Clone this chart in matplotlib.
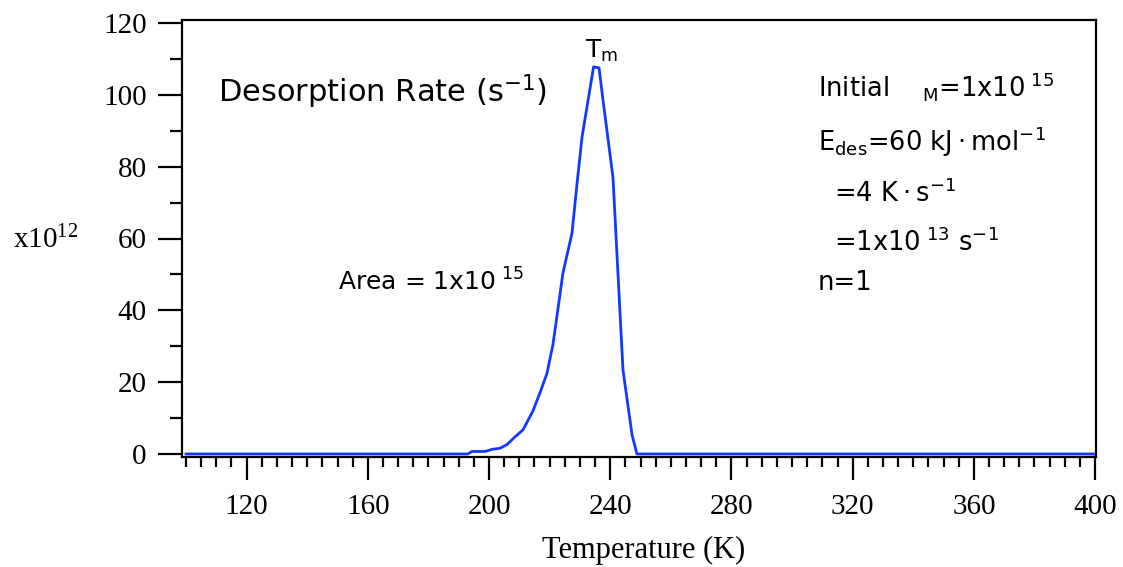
import matplotlib
matplotlib.use("Agg")
import matplotlib.pyplot as plt
from matplotlib.ticker import FixedLocator, MultipleLocator

# simulated first-order TPD trace, rate in units of 1e12 s^-1
temperature = [100, 193, 194.4, 198.7, 201, 203.6, 205.9, 208.6, 211.2, 214.5,
               216.8, 219.1, 221.1, 224.4, 227.4, 229, 230.7, 234.5, 236.3,
               237.6, 240.9, 244.2, 247.2, 248.8, 400]
rate = [0, 0, 0.7, 0.7, 1.3, 1.6, 2.6, 4.8, 6.7, 12,
        17, 22.4, 30.5, 50.4, 61.6, 75, 88.3, 107.8, 107.5,
        98.6, 77, 23.4, 5.3, 0, 0]

x_major = [120, 160, 200, 240, 280, 320, 360, 400]
y_major = [0, 20, 40, 60, 80, 100, 120]

params = [
    (99.4, "Initial    $_{M}$=1x10$^{\\ 15}$"),
    (84.3, "E$_{des}$=60 kJ\u2009\u00b7\u2009mol$^{-1}$"),
    (70.3, "  =4 K\u2009\u00b7\u2009s$^{-1}$"),
    (56.4, "  =1x10$^{\\ 13}$ s$^{-1}$"),
    (45.6, "n=1"),
]

plt.rcParams["font.family"] = "Liberation Serif"
plt.rcParams["mathtext.default"] = "regular"
sans = "DejaVu Sans"

W, H = 1123, 567
fig = plt.figure(figsize=(W / 100, H / 100), dpi=100)
ax = fig.add_axes([182 / W, 1 - 457 / H, (1096 - 182) / W, (457 - 20) / H])

ax.plot(temperature, rate, color="#1438ff", lw=2.0, solid_joinstyle="round")
ax.set_xlim(98.68, 400.3)
ax.set_ylim(-0.84, 120.84)

ax.xaxis.set_major_locator(FixedLocator(x_major))
ax.xaxis.set_minor_locator(MultipleLocator(5))
ax.yaxis.set_major_locator(FixedLocator(y_major))
ax.yaxis.set_minor_locator(MultipleLocator(10))

for s in ax.spines.values():
    s.set_linewidth(1.6)

ax.tick_params(axis="x", which="major", length=16.5, width=1.6, pad=10.5, labelsize=21)
ax.tick_params(axis="x", which="minor", length=7, width=1.6)
ax.tick_params(axis="y", which="major", length=17, width=1.6, pad=8.5, labelsize=21)
ax.tick_params(axis="y", which="minor", length=8.6, width=1.6)

fig.text(644 / W, 1 - 558 / H, "Temperature (K)", ha="center", va="baseline", fontsize=22)
fig.text(13 / W, 1 - 248 / H, "x10$^{12}$", ha="left", va="baseline", fontsize=21)

ax.text(110.6, 97.8, "Desorption Rate (s$^{-1}$)", family=sans, fontsize=22, va="baseline")
ax.text(150.2, 45.4, "Area = 1x10$^{\\ 15}$", family=sans, fontsize=18, va="baseline")
ax.text(237, 110.3, "T$_{m}$", family=sans, fontsize=18, ha="center", va="baseline")

for y, s in params:
    ax.text(308.6, y, s, family=sans, fontsize=18.5, va="baseline")

fig.savefig("out.png", dpi=100)
